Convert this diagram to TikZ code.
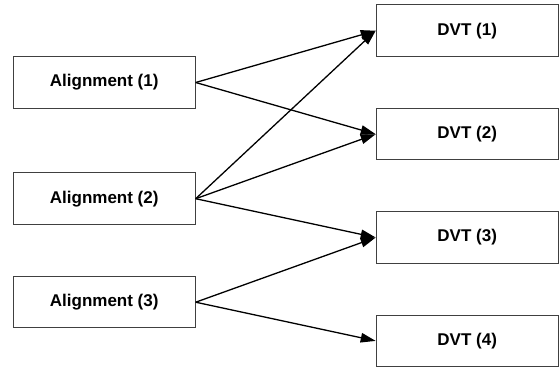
\documentclass[tikz,border=0pt]{standalone}
\usepackage{fontspec}
\setmainfont{Liberation Sans}
\usetikzlibrary{arrows.meta}
\begin{document}
\begin{tikzpicture}[x=1pt,y=-1pt,
  box/.style={draw=black!75, line width=1pt, minimum width=182pt, minimum height=51.5pt, inner sep=0pt, font=\fontsize{17}{20}\selectfont\bfseries},
  conn/.style={line width=1.3pt, -{Triangle[length=15pt,width=9.5pt]}}]
\useasboundingbox (0,0) rectangle (560,367);
\node[box] (a1) at (104.2,82.5) {Alignment (1)};
\node[box] (a2) at (104.2,198.7) {Alignment (2)};
\node[box] (a3) at (104.2,302.2) {Alignment (3)};
\node[box] (d1) at (467.2,30.7) {DVT (1)};
\node[box] (d2) at (467.2,134.2) {DVT (2)};
\node[box] (d3) at (467.2,237.5) {DVT (3)};
\node[box] (d4) at (467.2,340.9) {DVT (4)};
\draw[conn] (a1.east) -- (d1.west);
\draw[conn] (a1.east) -- (d2.west);
\draw[conn] (a2.east) -- (d1.west);
\draw[conn] (a2.east) -- (d2.west);
\draw[conn] (a2.east) -- (d3.west);
\draw[conn] (a3.east) -- (d3.west);
\draw[conn] (a3.east) -- (d4.west);
\end{tikzpicture}
\end{document}
